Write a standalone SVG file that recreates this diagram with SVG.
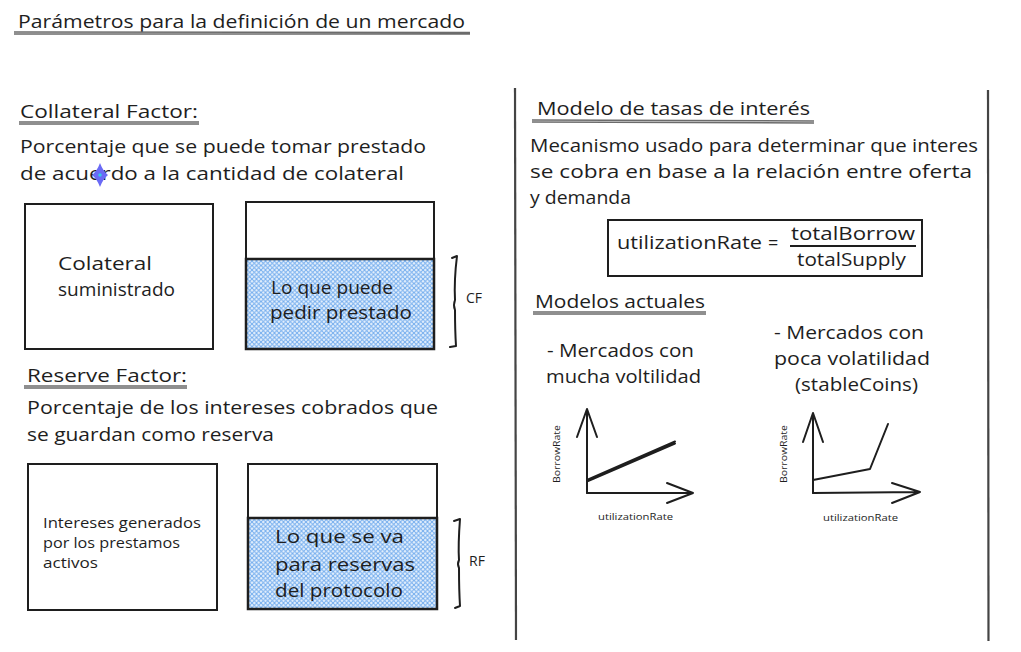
<svg xmlns="http://www.w3.org/2000/svg" width="1021" height="652" viewBox="0 0 1021 652">
<defs>
<pattern id="hatch" width="4.5" height="4.5" patternUnits="userSpaceOnUse">
<rect width="4.5" height="4.5" fill="#eaf3fd"/>
<path d="M0,4.5 L4.5,0 M-1,1 L1,-1 M3.5,5.5 L5.5,3.5" stroke="#74adee" stroke-width="1"/>
<path d="M0,0 L4.5,4.5 M-1,3.5 L1,5.5 M3.5,-1 L5.5,1" stroke="#74adee" stroke-width="1"/>
</pattern>
<style>
text{font-family:"Open Sans","Liberation Sans",sans-serif;fill:#1e1e1e}
.t20{font-size:19px}
.t18{font-size:18px}
.t15{font-size:14px}
.sm{font-size:9px}
.box{fill:#fff;stroke:#1e1e1e;stroke-width:2}
.ln{fill:none;stroke:#1e1e1e;stroke-width:2;stroke-linecap:round;stroke-linejoin:round}
.ul{fill:none;stroke:#6b6b6b;stroke-width:1.5}
</style>
</defs>
<rect width="1021" height="652" fill="#fff"/>

<g id="title">
<text class="t20" x="18" y="28" textLength="447" lengthAdjust="spacingAndGlyphs">Parámetros para la definición de un mercado</text>
<path class="ul" d="M14,32 L470,32.5 M14,34 L470,34"/>
</g>

<g id="collateral-factor">
<text class="t20" x="20" y="118" textLength="178" lengthAdjust="spacingAndGlyphs">Collateral Factor:</text>
<path class="ul" d="M19,122 L199,122 M19,124 L199,124"/>
<text class="t20" x="20" y="153" textLength="406" lengthAdjust="spacingAndGlyphs">Porcentaje que se puede tomar prestado</text>
<text class="t20" x="20" y="180" textLength="384" lengthAdjust="spacingAndGlyphs">de acuerdo a la cantidad de colateral</text>
<path d="M100,163 Q103,171 108,175 Q103,179 100,187 Q97,179 92,175 Q97,171 100,163 Z" fill="#6a6af5"/>
<circle cx="100" cy="175" r="1.8" fill="#38c8e8"/>
</g>

<g id="box-colateral">
<rect class="box" x="25" y="204" width="188" height="145"/>
<text class="t18" x="58" y="270" textLength="94" lengthAdjust="spacingAndGlyphs">Colateral</text>
<text class="t18" x="58" y="296" textLength="117" lengthAdjust="spacingAndGlyphs">suministrado</text>
</g>

<g id="box-prestado">
<rect class="box" x="246" y="202" width="188" height="147"/>
<rect x="246" y="259" width="188" height="90" fill="url(#hatch)" stroke="#1e1e1e" stroke-width="2.5"/>
<text class="t18" x="271" y="294" textLength="122" lengthAdjust="spacingAndGlyphs">Lo que puede</text>
<text class="t18" x="270" y="319" textLength="142" lengthAdjust="spacingAndGlyphs">pedir prestado</text>
</g>

<g id="cf-bracket">
<path class="ln" d="M452,258 L457,256 Q454,280 455,300 Q453,305 455,310 Q455,330 456,346 L450,347" stroke-width="1.5"/>
<text class="t15" x="466" y="303">CF</text>
</g>

<g id="reserve-factor">
<text class="t20" x="27" y="382" textLength="160" lengthAdjust="spacingAndGlyphs">Reserve Factor:</text>
<path class="ul" d="M24,386 L187,386 M24,388 L187,388"/>
<text class="t20" x="27" y="414" textLength="411" lengthAdjust="spacingAndGlyphs">Porcentaje de los intereses cobrados que</text>
<text class="t20" x="27" y="441" textLength="247" lengthAdjust="spacingAndGlyphs">se guardan como reserva</text>
</g>

<g id="box-intereses">
<rect class="box" x="28" y="464" width="189" height="146"/>
<text class="t15" x="43" y="528" textLength="158" lengthAdjust="spacingAndGlyphs">Intereses generados</text>
<text class="t15" x="43" y="548" textLength="137" lengthAdjust="spacingAndGlyphs">por los prestamos</text>
<text class="t15" x="43" y="568" textLength="55" lengthAdjust="spacingAndGlyphs">activos</text>
</g>

<g id="box-reservas">
<rect class="box" x="248" y="464" width="189" height="145"/>
<rect x="248" y="518" width="189" height="91" fill="url(#hatch)" stroke="#1e1e1e" stroke-width="2.5"/>
<text class="t18" x="275" y="543" textLength="129" lengthAdjust="spacingAndGlyphs">Lo que se va</text>
<text class="t18" x="275" y="571" textLength="140" lengthAdjust="spacingAndGlyphs">para reservas</text>
<text class="t18" x="275" y="597" textLength="128" lengthAdjust="spacingAndGlyphs">del protocolo</text>
</g>

<g id="rf-bracket">
<path class="ln" d="M454,521 L460,519 Q458,545 459,560 Q457,564 459,568 Q459,590 460,606 L455,608" stroke-width="1.5"/>
<text class="t15" x="469" y="566">RF</text>
</g>

<g id="dividers">
<path d="M515,88 L516,640" stroke="#444" stroke-width="2.2" fill="none"/>
<path d="M988,90 L988.5,641" stroke="#444" stroke-width="2.2" fill="none"/>
</g>

<g id="modelo-tasas">
<text class="t20" x="537" y="115" textLength="273" lengthAdjust="spacingAndGlyphs">Modelo de tasas de interés</text>
<path class="ul" d="M532,120 L814,121 M532,122 L814,123"/>
<text class="t20" x="530" y="152" textLength="448" lengthAdjust="spacingAndGlyphs">Mecanismo usado para determinar que interes</text>
<text class="t20" x="530" y="178" textLength="442" lengthAdjust="spacingAndGlyphs">se cobra en base a la relación entre oferta</text>
<text class="t20" x="530" y="204" textLength="101" lengthAdjust="spacingAndGlyphs">y demanda</text>
</g>

<g id="formula">
<rect class="box" x="608" y="220" width="314" height="56"/>
<text class="t18" x="617" y="249" textLength="145" lengthAdjust="spacingAndGlyphs">utilizationRate</text>
<text class="t18" x="768" y="249">=</text>
<text class="t18" x="791" y="240" textLength="124" lengthAdjust="spacingAndGlyphs">totalBorrow</text>
<path d="M790,246 L916,246" stroke="#1e1e1e" stroke-width="2"/>
<text class="t18" x="797" y="266" textLength="109" lengthAdjust="spacingAndGlyphs">totalSupply</text>
</g>

<g id="modelos-actuales">
<text class="t18" x="535" y="308" textLength="170" lengthAdjust="spacingAndGlyphs">Modelos actuales</text>
<path class="ul" d="M533,312 L706,312 M533,314 L706,314"/>
</g>

<g id="label-volatil">
<text class="t18" x="547" y="357" textLength="147" lengthAdjust="spacingAndGlyphs">- Mercados con</text>
<text class="t18" x="546" y="383" textLength="155" lengthAdjust="spacingAndGlyphs">mucha voltilidad</text>
</g>

<g id="label-estable">
<text class="t18" x="774" y="339" textLength="150" lengthAdjust="spacingAndGlyphs">- Mercados con</text>
<text class="t18" x="774" y="365" textLength="156" lengthAdjust="spacingAndGlyphs">poca volatilidad</text>
<text class="t18" x="795" y="391" textLength="123" lengthAdjust="spacingAndGlyphs">(stableCoins)</text>
</g>

<g id="chart-volatil">
<path class="ln" d="M587,493 L587,409 M577,437 L587,409 L597,437"/>
<path class="ln" d="M587,493 L693,493 M667,483 L693,493 L667,503"/>
<path class="ln" d="M587,480 L675,441.5 M588,481 L675,443.5" stroke-width="1"/>
<text class="sm" transform="translate(560,483) rotate(-90)" textLength="58" lengthAdjust="spacingAndGlyphs">BorrowRate</text>
<text class="sm" x="598" y="520" textLength="75" lengthAdjust="spacingAndGlyphs">utilizationRate</text>
</g>

<g id="chart-estable">
<path class="ln" d="M813,493 L813,413 M803,442 L813,413 L823,442"/>
<path class="ln" d="M813,493 L920,492 M892,483 L920,492 L892,503"/>
<path class="ln" d="M813,480 L870,469 L888,424"/>
<text class="sm" transform="translate(787,483) rotate(-90)" textLength="58" lengthAdjust="spacingAndGlyphs">BorrowRate</text>
<text class="sm" x="823" y="521" textLength="75" lengthAdjust="spacingAndGlyphs">utilizationRate</text>
</g>
</svg>
